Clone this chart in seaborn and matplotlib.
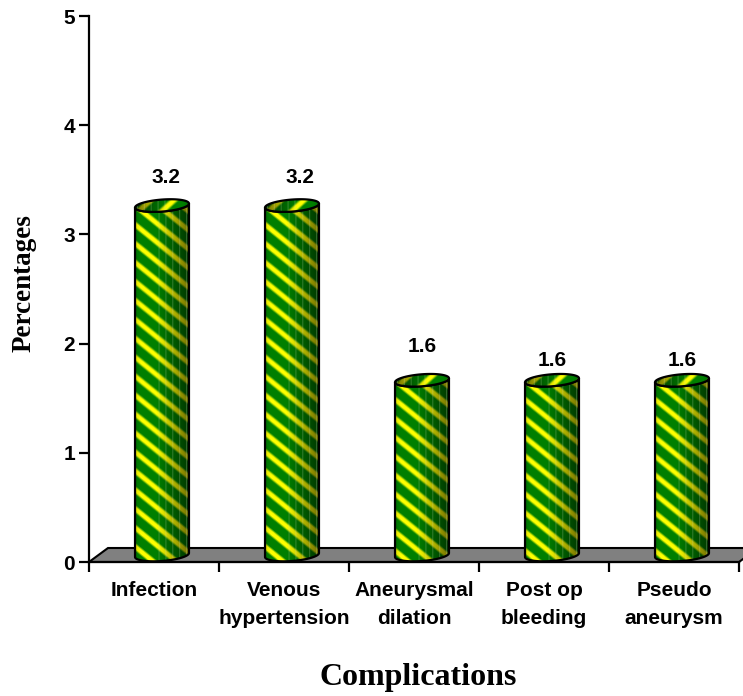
import numpy as np
import pandas as pd
import matplotlib
matplotlib.use("Agg")
import matplotlib.pyplot as plt
from matplotlib.patches import Polygon
import seaborn as sns

categories = ["Infection", "Venous\nhypertension", "Aneurysmal\ndilation", "Post op\nbleeding", "Pseudo\naneurysm"]
percentages = [3.2, 3.2, 1.6, 1.6, 1.6]
y_ticks = [0, 1, 2, 3, 4, 5]

# value label placement relative to each bar, in pixels
label_lift = [35, 35, 41, 27, 27]
label_shift = [4, 8, 0, 0, 0]

sns.set_style("ticks")
plt.rcParams['font.family'] = ['Liberation Sans', 'DejaVu Sans']
plt.rcParams['text.color'] = 'black'
plt.rcParams['axes.labelcolor'] = 'black'

df = pd.DataFrame({"complication": categories, "percentage": percentages})

fig = plt.figure(figsize=(7.43, 6.96), dpi=100)
ax = fig.add_axes([89 / 743, (696 - 562) / 696, 650 / 743, 546 / 696])

sns.barplot(data=df, x="complication", y="percentage", color="#008000", width=0.415,
            saturation=1, errorbar=None, ax=ax, zorder=2)

px_x = 1 / 130
px_y = 5 / 546


def stripes(w, h):
    # diagonal green/yellow texture with a darker right side
    u, v = np.meshgrid(np.arange(w), np.arange(h))
    phase = ((v - 0.8 * u) / 19.0) % 1
    yellow = np.clip((0.17 - np.abs(phase - 0.5)) * 7 + 0.5, 0, 1)
    rgb = np.zeros((h, w, 3))
    rgb[..., 0] = yellow
    rgb[..., 1] = 0.5 + 0.5 * yellow
    pos = u / (w - 1)
    shade = 1 - 0.55 * np.clip((pos - 0.4) / 0.6, 0, 1)
    shade = shade - 0.12 * np.clip((0.1 - pos) / 0.1, 0, 1)
    rgb = rgb * shade[..., None]
    # thin light verticals on the shaded side
    lines = ((u % 7) == 3) & (pos > 0.42)
    rgb[lines] = rgb[lines] * 0.75 + 0.25 * np.array([0.85, 0.9, 0.75])
    return np.clip(rgb, 0, 1)


t_top = np.linspace(0, np.pi, 40)
t_bot = np.linspace(np.pi, 2 * np.pi, 40)
rx_tilt = 2 * px_y
ry = 6 * px_y

for i, bar in enumerate(list(ax.patches)):
    bar.set_x(bar.get_x() + 8 * px_x)
    bar.set_y(7 * px_y)
    xc = bar.get_x() + bar.get_width() / 2
    rx = bar.get_width() / 2
    y0 = bar.get_y()
    y1 = y0 + bar.get_height()

    # ellipse arcs, slightly tilted like the original 3D view
    def arc(t, yc):
        return np.column_stack([xc + rx * np.cos(t), yc + ry * np.sin(t) + rx_tilt * np.cos(t)])

    body_pts = np.vstack([arc(t_bot, y0), arc(t_bot[::-1], y1)])
    top_pts = arc(np.linspace(0, 2 * np.pi, 80), y1)

    body = Polygon(body_pts, closed=True, fc="none", ec="black", lw=1.6, zorder=4)
    top = Polygon(top_pts, closed=True, fc="none", ec="black", lw=1.6, zorder=6)
    ax.add_patch(body)
    ax.add_patch(top)
    bar.set_clip_path(body)

    h_px = int((y1 - y0) / px_y) + 20
    im = ax.imshow(stripes(55, h_px), aspect="auto", interpolation="bilinear", zorder=3,
                   extent=[xc - rx, xc + rx, y0 - ry * 1.5, y1 + ry * 1.5])
    im.set_clip_path(body)

    top_im = ax.imshow(stripes(55, 16)[:, ::-1], aspect="auto",
                       interpolation="bilinear", zorder=5,
                       extent=[xc - rx, xc + rx, y1 - ry * 1.5, y1 + ry * 1.5])
    top_im.set_clip_path(top)

    ax.text(xc + label_shift[i] * px_x, percentages[i] + label_lift[i] * px_y, f"{percentages[i]}",
            ha="center", va="center", fontsize=15, fontweight="bold", zorder=7)

# grey floor of the 3D plot
floor = Polygon([[-0.5, 0], [-0.5 + 19 * px_x, 14 * px_y], [4.5 + 19 * px_x, 14 * px_y], [4.5, 0]],
                closed=True, fc="#808080", ec="black", lw=1.5, zorder=1, clip_on=False)
ax.add_patch(floor)

ax.set_xlim(-0.5, 4.5)
ax.set_ylim(0, 5)
ax.set_yticks(y_ticks)
ax.set_xticks(np.arange(-0.5, 5, 1))
ax.set_xticks(np.arange(len(categories)), labels=categories, minor=True)
ax.set_xticklabels([])
ax.tick_params(axis="x", which="major", length=7, width=1.6, color="black")
ax.tick_params(axis="x", which="minor", length=0, pad=14)
ax.tick_params(axis="y", length=7, width=1.6, color="black", pad=3)
for lab in ax.get_xticklabels(minor=True) + ax.get_yticklabels():
    lab.set_fontsize(15)
    lab.set_fontweight("bold")
    lab.set_color("black")
for lab in ax.get_xticklabels(minor=True):
    lab.set_linespacing(1.6)

sns.despine(ax=ax)
ax.spines["left"].set_linewidth(1.6)
ax.spines["bottom"].set_linewidth(1.6)
ax.spines["left"].set_color("black")
ax.spines["bottom"].set_color("black")
ax.spines["bottom"].set_zorder(1.5)

ax.set_xlabel("Complications", fontsize=23, fontweight="bold", family="Liberation Serif", va="center")
ax.xaxis.set_label_coords((418 - 89) / 650, -(677 - 562) / 546)
ax.set_ylabel("Percentages", fontsize=19.5, fontweight="bold", family="Liberation Serif", va="center")
ax.yaxis.set_label_coords((24 - 89) / 650, (562 - 283) / 546)

fig.savefig("out.png", dpi=100)
